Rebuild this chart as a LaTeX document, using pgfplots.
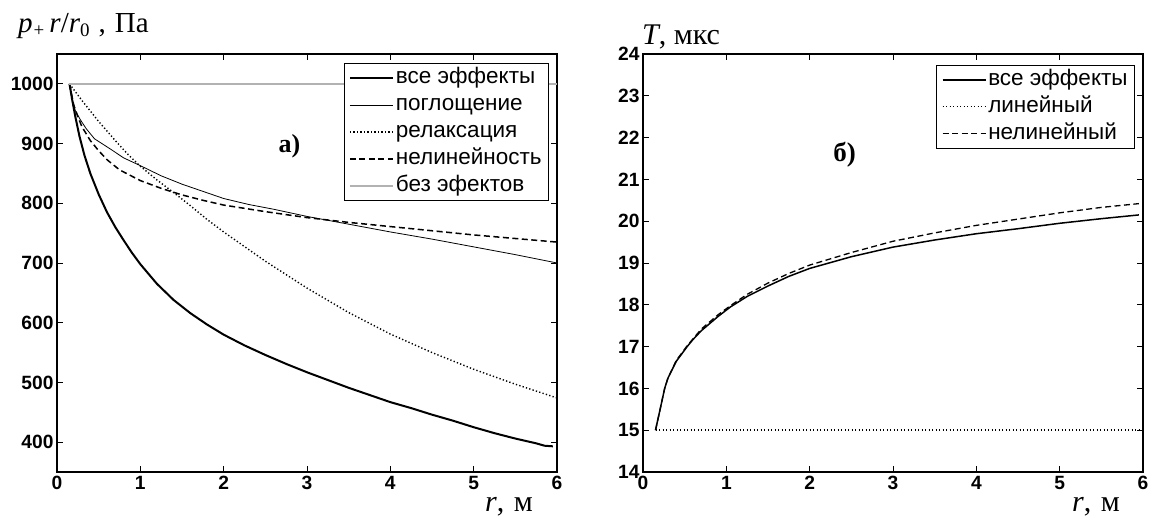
\documentclass[border=0pt]{standalone}
\usepackage{fontspec}
\setmainfont{Liberation Serif}
\newfontfamily\arial{Liberation Sans}
\usepackage{pgfplots}
\pgfplotsset{compat=1.18}

\pgfplotsset{
  panel/.style={
    scale only axis, width=500pt, height=418pt,
    xmin=0, xmax=6, xtick={0,...,6},
    tick align=inside, major tick length=6pt,
    axis line style={line width=1.1pt},
    every tick/.style={black, line width=0.9pt},
    tick label style={font=\arial\bfseries\fontsize{19.2}{21}\selectfont},
    /pgf/number format/assume math mode=true,
    /pgf/number format/1000 sep={},
    xticklabel style={yshift=-1pt},
    legend cell align=left,
    legend style={font=\arial\fontsize{22.5}{25}\selectfont, draw=black,
      line width=0.8pt, row sep=8pt, inner xsep=5pt, inner ysep=5pt,
      nodes={text height=15pt, text depth=4pt, inner xsep=2pt, inner ysep=0pt}},
    legend image code/.code={\draw[##1] (0pt,0pt) -- (43pt,0pt);},
  },
  allfx/.style={black, line width=2pt},
  absorb/.style={black, line width=0.8pt},
  relax/.style={black, line width=1.4pt, dash pattern=on 1.3pt off 2.2pt},
  nonlin/.style={black, line width=1.5pt, dash pattern=on 6pt off 3.5pt},
  nofx/.style={black!30, line width=1.4pt},
}

\begin{document}
\begin{tikzpicture}[x=1pt,y=1pt]
\useasboundingbox (0,0) rectangle (1157,518);

% panel a: peak pressure versus distance
\begin{axis}[panel, at={(57pt,46pt)}, anchor=south west,
  ymin=350, ymax=1050, ytick={400,500,...,1000},
  legend style={at={(rel axis cs:0.984,0.978)}, anchor=north east}]
\addplot[allfx] coordinates {
 (0.15,1000) (0.18,975) (0.22,945) (0.27,912) (0.33,880) (0.40,850)
 (0.50,815) (0.60,785) (0.70,760) (0.80,738) (0.90,717) (1.00,698)
 (1.20,665) (1.40,638) (1.60,616) (1.80,597) (2.00,580) (2.25,562)
 (2.50,546) (2.75,531) (3.00,517) (3.25,504) (3.50,491) (3.75,479)
 (4.00,467) (4.25,457) (4.50,446) (4.75,436) (5.00,425) (5.25,415)
 (5.50,406) (5.75,398) (5.85,394) (5.95,393)};
\addlegendentry{все эффекты}
\addplot[absorb] coordinates {
 (0.15,1000) (0.18,975) (0.22,955) (0.28,940) (0.35,925) (0.45,908)
 (0.55,899) (0.65,890) (0.80,876) (1.00,863) (1.25,846) (1.50,832)
 (1.75,820) (2.00,808) (2.30,798) (2.60,790) (3.00,778) (3.50,765)
 (4.00,752) (4.50,740) (5.00,727) (5.50,714) (6.00,700)};
\addlegendentry{поглощение}
\addplot[relax] coordinates {
 (0.15,1000) (0.30,972) (0.50,937) (0.70,905) (0.85,882) (1.00,862)
 (1.20,839) (1.40,818) (1.60,796) (1.80,773) (2.00,752) (2.50,703)
 (3.00,658) (3.50,617) (4.00,581) (4.50,550) (5.00,522) (5.50,497)
 (6.00,474)};
\addlegendentry{релаксация}
\addplot[nonlin] coordinates {
 (0.15,1000) (0.20,965) (0.25,945) (0.30,928) (0.40,905) (0.50,888)
 (0.60,873) (0.75,856) (1.00,838) (1.25,825) (1.50,814) (1.75,805)
 (2.00,797) (2.50,786) (3.00,776) (3.50,768) (4.00,761) (4.50,754)
 (5.00,747) (5.50,741) (6.00,735)};
\addlegendentry{нелинейность}
\addplot[nofx] coordinates {(0.15,1000) (6,1000)};
\addlegendentry{без эфектов}
\node[font=\bfseries\fontsize{26}{28}\selectfont] at (axis cs:2.79,895) {а)};
\end{axis}

% panel b: pulse duration versus distance
\begin{axis}[panel, at={(643pt,46pt)}, anchor=south west,
  ymin=14, ymax=24, ytick={14,...,24},
  legend style={at={(rel axis cs:0.984,0.974)}, anchor=north east}]
\addplot[black, line width=1.5pt] coordinates {
 (0.15,15.0) (0.20,15.45) (0.26,16.0) (0.30,16.25) (0.40,16.65)
 (0.53,17.0) (0.60,17.17) (0.70,17.38) (0.80,17.55) (0.90,17.72)
 (1.05,17.95) (1.25,18.2) (1.50,18.45) (1.75,18.68) (2.00,18.87)
 (2.50,19.15) (3.00,19.38) (3.50,19.55) (4.00,19.7) (4.50,19.82)
 (5.00,19.95) (5.50,20.06) (5.95,20.15)};
\addlegendentry{все эффекты}
\addplot[relax] coordinates {(0.15,15) (6,15)};
\addlegendentry{линейный}
\addplot[black, line width=1.3pt, dash pattern=on 6pt off 3.5pt] coordinates {
 (0.15,15.0) (0.20,15.45) (0.26,16.0) (0.30,16.25) (0.40,16.67)
 (0.53,17.02) (0.70,17.42) (0.90,17.76) (1.05,17.98) (1.25,18.25)
 (1.50,18.52) (1.75,18.75) (2.00,18.95) (2.50,19.25) (3.00,19.52)
 (3.50,19.72) (4.00,19.9) (4.50,20.05) (5.00,20.2) (5.50,20.33)
 (5.95,20.42)};
\addlegendentry{нелинейный}
\node[font=\bfseries\fontsize{27}{29}\selectfont] at (axis cs:2.42,21.6) {б)};
\end{axis}

% axis captions
\node[anchor=base west, inner sep=0pt, font=\fontsize{29}{31}\selectfont] at (18,485)
  {\textit{p}\hspace{1pt}\raisebox{-0.3ex}{\fontsize{19}{20}\selectfont +}\hspace{5pt}\textit{r}/\textit{r}\raisebox{-0.3ex}{\fontsize{19}{20}\selectfont 0}\hspace{9pt},\hspace{9pt}Па};
\node[anchor=base west, inner sep=0pt, font=\fontsize{30}{32}\selectfont] at (642,473)
  {\textit{T}, мкс};
\node[anchor=base west, inner sep=0pt, font=\fontsize{30}{32}\selectfont] at (485,6)
  {\textit{r}, \hspace{2pt}м};
\node[anchor=base west, inner sep=0pt, font=\fontsize{30}{32}\selectfont] at (1072,6)
  {\textit{r}, \hspace{2pt}м};
\end{tikzpicture}
\end{document}
